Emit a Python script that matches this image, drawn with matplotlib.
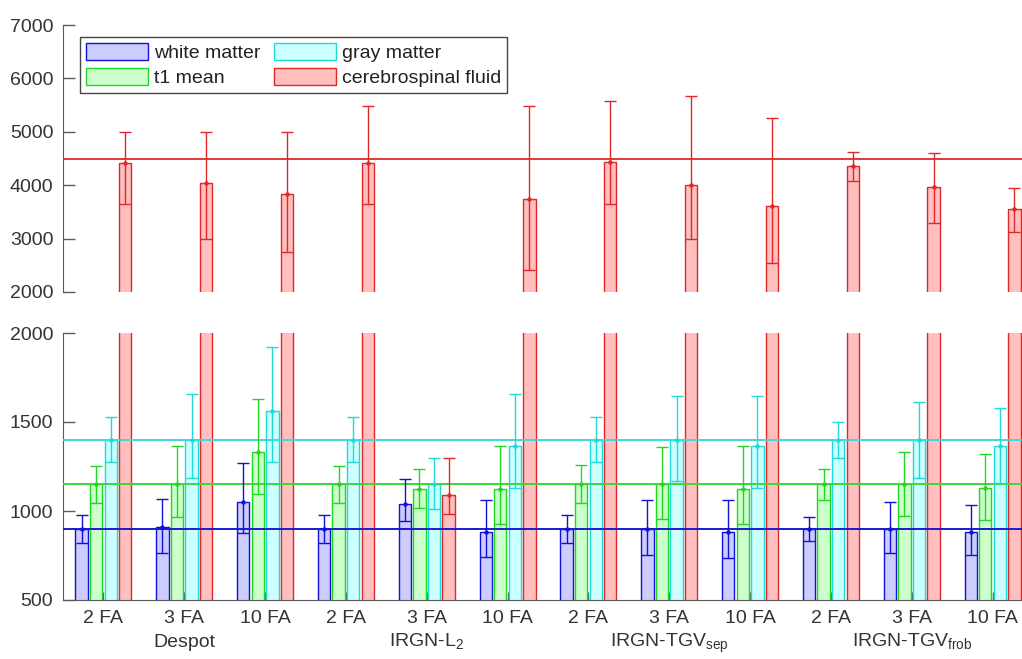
import numpy as np
import matplotlib
matplotlib.use("Agg")
import matplotlib.pyplot as plt
import matplotlib.transforms as mtransforms

plt.rcParams['font.family'] = ['Liberation Sans', 'DejaVu Sans']
plt.rcParams['mathtext.fontset'] = 'custom'
plt.rcParams['mathtext.rm'] = 'Liberation Sans'

# ---------------- data ----------------
tick_labels = ["2 FA", "3 FA", "10 FA"] * 4
method_labels = ["Despot", "IRGN-L$_\\mathregular{2}$",
                 "IRGN-TGV$_\\mathregular{sep}$", "IRGN-TGV$_\\mathregular{frob}$"]
series_names = ["white matter", "t1 mean", "gray matter", "cerebrospinal fluid"]

wm_mean = [898, 909, 1051, 898, 1042, 884, 898, 901, 884, 898, 901, 884]
wm_low = [822, 763, 875, 822, 942, 740, 822, 753, 738, 834, 763, 753]
wm_high = [978, 1070, 1272, 978, 1179, 1062, 980, 1062, 1062, 965, 1053, 1034]

t1_mean = [1151, 1154, 1329, 1150, 1124, 1124, 1150, 1150, 1124, 1150, 1150, 1128]
t1_low = [1047, 965, 1094, 1047, 1016, 927, 1047, 957, 927, 1062, 972, 950]
t1_high = [1255, 1366, 1632, 1255, 1235, 1366, 1257, 1357, 1366, 1235, 1334, 1319]

gm_mean = [1400, 1400, 1563, 1400, 1151, 1366, 1400, 1400, 1366, 1400, 1400, 1366]
gm_low = [1278, 1184, 1278, 1278, 1010, 1128, 1278, 1171, 1128, 1297, 1188, 1156]
gm_high = [1529, 1659, 1921, 1529, 1297, 1657, 1527, 1644, 1644, 1501, 1615, 1576]

csf_mean = [4410, 4035, 3841, 4410, 1089, 3742, 4441, 4004, 3610, 4366, 3973, 3554]
csf_low = [3642, 2992, 2743, 3642, 982, 2412, 3642, 2986, 2537, 4085, 3286, 3117]
csf_high = [5000, 5000, 5000, 5489, 1297, 5489, 5571, 5670, 5265, 4615, 4605, 3941]

ref_values = [900, 1150, 1400, 4500]

means = [wm_mean, t1_mean, gm_mean, csf_mean]
lows = [wm_low, t1_low, gm_low, csf_low]
highs = [wm_high, t1_high, gm_high, csf_high]

edge_colors = ["#1010d8", "#20d820", "#20dada", "#e02828"]
face_colors = [(0.0, 0.0, 1.0, 0.2), (0.0, 1.0, 0.0, 0.2),
               (0.0, 1.0, 1.0, 0.2), (1.0, 0.0, 0.0, 0.25)]
line_colors = ["#1a1ad0", "#3ad83a", "#3adada", "#e03a3a"]

# ---------------- figure ----------------
W, H = 1022, 659
fig = plt.figure(figsize=(W / 100, H / 100), dpi=100)
ax_top = fig.add_axes([63 / W, 1 - 292 / H, 970 / W, 267 / H])
ax_bot = fig.add_axes([63 / W, 1 - 600 / H, 970 / W, 267 / H])

x = np.arange(1, len(tick_labels) + 1)
pitch = 0.18
width = 0.152
axis_col = "#5a5a5a"
text_col = "#333333"
fs = 14

handles = []
for ax in (ax_top, ax_bot):
    for i in range(4):
        xi = x + (i - 1.5) * pitch
        m = np.array(means[i], dtype=float)
        lo = np.array(lows[i], dtype=float)
        hi = np.array(highs[i], dtype=float)
        bars = ax.bar(xi, m, width=width, color=face_colors[i],
                      edgecolor=edge_colors[i], linewidth=1.0, zorder=2,
                      label=series_names[i])
        if ax is ax_bot:
            handles.append(bars)
        ax.errorbar(xi, m, yerr=[m - lo, hi - m], fmt='o', ms=2.2,
                    color=edge_colors[i], elinewidth=1.0, capsize=4.2,
                    capthick=1.0, zorder=4)
    for v, c in zip(ref_values, line_colors):
        ax.axhline(v, color=c, linewidth=1.4, zorder=3)
    ax.set_xlim(0.5, 12.5)
    ax.spines['top'].set_visible(False)
    ax.spines['right'].set_visible(False)
    ax.spines['left'].set_color(axis_col)
    ax.spines['bottom'].set_color(axis_col)
    ax.tick_params(axis='y', direction='in', length=8.5, width=1,
                   color=axis_col, labelcolor=text_col, labelsize=fs, pad=7)
    ax.tick_params(axis='x', direction='in', length=6, width=1,
                   color=axis_col, labelcolor=text_col, labelsize=fs, pad=7)

ax_top.set_ylim(2000, 7000)
ax_top.set_yticks([2000, 3000, 4000, 5000, 6000, 7000])
ax_top.spines['bottom'].set_visible(False)
ax_top.set_xticks([])

ax_bot.set_ylim(500, 2000)
ax_bot.set_yticks([500, 1000, 1500, 2000])
ax_bot.set_xticks(x)
ax_bot.set_xticklabels(tick_labels)

trans = mtransforms.blended_transform_factory(ax_bot.transData, fig.transFigure)
for k, lab in enumerate(method_labels):
    ax_bot.text(x[3 * k + 1], 1 - 647 / H, lab, transform=trans,
                ha='center', va='baseline', fontsize=fs, color=text_col)

leg = ax_top.legend(handles=handles, labels=series_names, ncol=2,
                    loc='upper left', bbox_to_anchor=(0.0175, 0.955),
                    borderaxespad=0, fontsize=fs, handlelength=3.2,
                    handleheight=1.0, handletextpad=0.3, columnspacing=0.7,
                    labelspacing=0.3, borderpad=0.3, fancybox=False,
                    framealpha=1, edgecolor="#444444")
leg.get_frame().set_linewidth(1.0)
for t in leg.get_texts():
    t.set_color("#222222")

fig.savefig("out.png", dpi=100)
